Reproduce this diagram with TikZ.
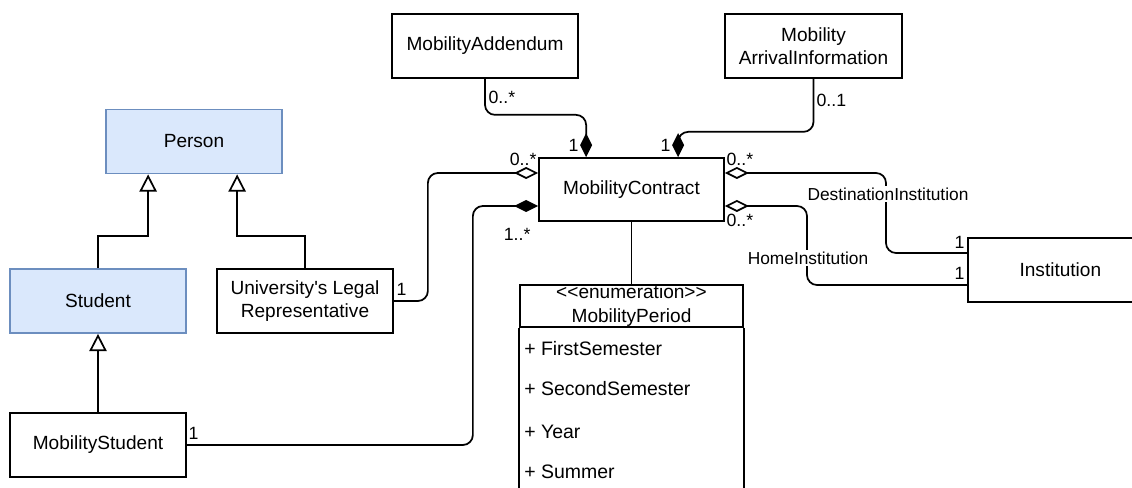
\documentclass[tikz,border=0pt]{standalone}
\usepackage{fontspec}
\setmainfont{Liberation Sans}
\usepackage{tikz}
\usetikzlibrary{positioning,arrows.meta,calc}
\definecolor{classfill}{HTML}{DAE8FC}
\definecolor{classdraw}{HTML}{6C8EBF}
\tikzset{umlclass/.style={rectangle, draw=black, fill=white, line width=1.3pt, minimum width=#1*0.75pt, minimum height=64*0.75pt, inner sep=2pt, align=center, font=\fontsize{14.3}{17}\selectfont},
umlclass/.default={176}}
\tikzset{superclass/.style={umlclass=#1, draw=classdraw, fill=classfill},
superclass/.default={176}}
\tikzset{mult/.style={inner sep=1pt, font=\fontsize{13.3}{15}\selectfont},
role/.style={mult, fill=white, font=\fontsize{13}{15}\selectfont}}
\tikzset{comp/.style={line width=1.3pt, rounded corners=7.5pt, -{Diamond[length=18pt,width=9pt]}},
aggr/.style={line width=1.3pt, rounded corners=7.5pt, -{Diamond[length=18pt,width=9pt,fill=white]}},
gen/.style={line width=1.3pt, -{Triangle[length=13pt,width=13pt,fill=white]}}}

\begin{document}
\begin{tikzpicture}[x=0.75pt,y=-0.75pt]
		\useasboundingbox (0,0) rectangle (1132,488);
		\clip (0,0) rectangle (1132,488);
		% classes
		\node[superclass] (person) at (194,141.5) {Person};
		\node[superclass] (student) at (98,301) {Student};
		\node[umlclass] (ulr) at (305,301) {University\textquotesingle s Legal\\Representative};
		\node[umlclass] (mstudent) at (98,445) {MobilityStudent};
		\node[umlclass=186] (addendum) at (485,46) {MobilityAddendum};
		\node[umlclass=177] (arrival) at (813.5,46) {Mobility\\ArrivalInformation};
		\node[umlclass=185, minimum height=63*0.75pt] (contract) at (631.5,189.5) {MobilityContract};
		\node[umlclass=185, anchor=west] (institution) at (967,270) {Institution};
		% enumeration
		\node[umlclass=223, minimum height=42*0.75pt, inner sep=0pt, font=\fontsize{14.3}{18}\selectfont] (period) at (631.5,306) {<{}<enumeration>{}>\\MobilityPeriod};
		\draw[line width=1.3pt] (period.south west) -- ++(0,170) (period.south east) -- ++(0,170);
		\foreach \y/\lit in {349/FirstSemester,389/SecondSemester,432/Year,472/Summer}
			\node[anchor=west, inner sep=0pt, font=\fontsize{14.6}{17}\selectfont] (lit-\lit) at (524,\y) {+ \lit};
		% generalizations
		\draw[gen] (student.north) -- ++(0,-32) -| ($(person.south west)+(43,0)$);
		\draw[gen] (ulr.north) -- ++(0,-32) -| ($(person.south west)+(132,0)$);
		\draw[gen] (mstudent.north) -- (student.south);
		% associations
		\draw[comp] (addendum.south) -- ++(0,36) -| ($(contract.north west)+(48,0)$);
		\draw[comp] (arrival.south) -- ++(0,53) -| ($(contract.north west)+(140,0)$);
		\draw[aggr] (ulr.east) -- ++(34,0) |- ($(contract.west)+(0,-16.5)$);
		\draw[comp] (mstudent.east) -- ++(286,0) |- ($(contract.west)+(0,16.5)$);
		\draw[aggr] ($(institution.west)+(0,-17)$) -- ++(-81,0) |- ($(contract.east)+(0,-16.5)$);
		\draw[aggr] ($(institution.west)+(0,15)$) -- ++(-160,0) |- ($(contract.east)+(0,16.5)$);
		\draw[line width=1.3pt] (contract.south) -- (period.north);
		% role names
		\node[role] (destination) at (888,194) {DestinationInstitution};
		\node[role] (home) at (808,258) {HomeInstitution};
		% multiplicities
		\node[mult, anchor=west] (m1) at (487,97) {0..*};
		\node[mult, anchor=east] (m2) at (580,145) {1};
		\node[mult, anchor=west] (m3) at (815,100) {0..1};
		\node[mult, anchor=east] (m4) at (672,145) {1};
		\node[mult, anchor=east] (m5) at (538,159) {0..*};
		\node[mult, anchor=west] (m6) at (395,289) {1};
		\node[mult, anchor=east] (m7) at (532,234) {1..*};
		\node[mult, anchor=west] (m8) at (187,433) {1};
		\node[mult, anchor=west] (m9) at (725,159) {0..*};
		\node[mult, anchor=west] (m10) at (725,220) {0..*};
		\node[mult, anchor=east] (m11) at (966,242) {1};
		\node[mult, anchor=east] (m12) at (966,273) {1};
\end{tikzpicture}
\end{document}
